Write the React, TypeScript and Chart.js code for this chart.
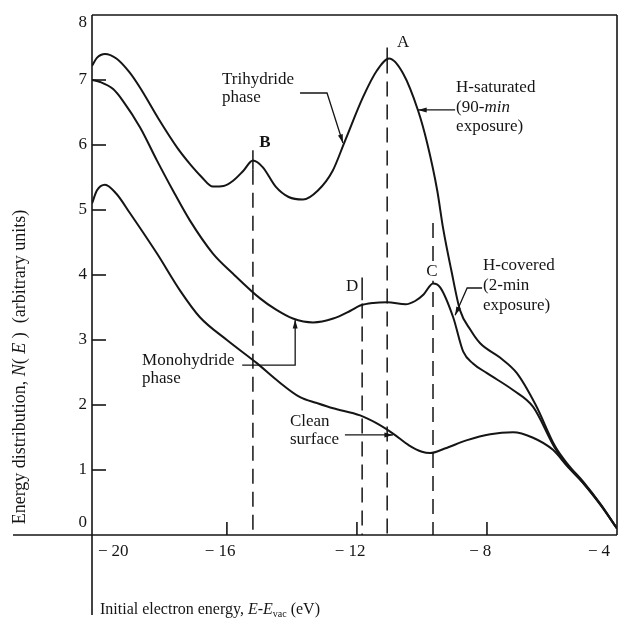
import React, { useEffect, useRef } from "react";
import { Chart, registerables } from "chart.js";

Chart.register(...registerables);

// ---------------- data ----------------
// H-saturated (90-min exposure)
const satX = [-20.15, -20.0, -19.75, -19.4, -19.0, -18.67, -18.1, -17.53, -17.14, -16.8, -16.43, -16.1, -15.81, -15.5, -15.2, -14.9, -14.5, -14.1, -13.66, -13.2, -12.75, -12.37, -11.81, -11.38, -11.01, -10.58, -10.12, -9.84, -9.53, -9.35, -9.1, -8.83, -8.5, -8.21, -7.6, -7.08, -6.5, -5.9, -5.5, -5.04, -4.5, -4.0];
const satY = [7.22, 7.34, 7.4, 7.33, 7.12, 6.88, 6.4, 5.96, 5.71, 5.52, 5.36, 5.37, 5.45, 5.6, 5.76, 5.66, 5.36, 5.2, 5.16, 5.3, 5.6, 6.06, 6.74, 7.15, 7.33, 7.1, 6.53, 6.03, 5.3, 4.72, 4.08, 3.46, 3.15, 2.95, 2.73, 2.49, 2.0, 1.36, 1.08, 0.82, 0.47, 0.1];

// H-covered (2-min exposure)
const covX = [-20.15, -19.9, -19.5, -19.2, -18.67, -18.15, -17.66, -17.14, -16.43, -15.81, -14.98, -14.5, -13.97, -13.35, -12.73, -12.2, -11.9, -11.5, -11.07, -10.5, -10.21, -9.95, -9.66, -9.44, -9.04, -8.73, -8.43, -8.0, -7.2, -6.58, -5.9, -5.5, -5.04, -4.5, -4.0];
const covY = [7.0, 6.97, 6.86, 6.68, 6.27, 5.76, 5.3, 4.84, 4.33, 4.02, 3.64, 3.47, 3.33, 3.27, 3.33, 3.45, 3.53, 3.57, 3.58, 3.55, 3.6, 3.7, 3.87, 3.81, 3.35, 2.82, 2.64, 2.49, 2.23, 1.97, 1.33, 1.06, 0.8, 0.46, 0.1];

// Clean surface
const cleanX = [-20.15, -20.0, -19.75, -19.4, -18.98, -18.15, -17.44, -16.83, -16.0, -15.07, -14.46, -13.75, -13.23, -12.73, -11.9, -11.4, -10.89, -10.4, -10.0, -9.75, -9.3, -8.61, -7.9, -7.2, -6.6, -5.97, -5.5, -5.04, -4.5, -4.0];
const cleanY = [5.1, 5.3, 5.39, 5.25, 4.95, 4.33, 3.76, 3.35, 3.0, 2.64, 2.38, 2.12, 2.03, 1.95, 1.84, 1.72, 1.56, 1.38, 1.28, 1.26, 1.33, 1.46, 1.55, 1.58, 1.5, 1.31, 1.04, 0.8, 0.46, 0.1];

// Peak markers B, D, A, C
const markerNames = ["B", "D", "A", "C"];
const markerX = [-15.2, -11.84, -11.07, -9.66];
const markerDashTop = [5.62, 3.56, 7.33, 4.8];
const markerTickTop: (number | null)[] = [5.92, 3.96, 7.5, null];
const markerTickBottom: (number | null)[] = [5.62, 3.61, 7.33, null];

// Axis ticks
const xTicks = [-20, -16, -12, -8, -4];
const yTicks = [0, 1, 2, 3, 4, 5, 6, 7, 8];

// ---------------- styles ----------------
const SERIF = "'Liberation Serif', 'DejaVu Serif', serif";
const INK = "#151515";
const FS = 17;

type Part = { t: string; italic?: boolean; bold?: boolean; size?: number; dy?: number };

function font(p: Part) {
  return `${p.italic ? "italic " : ""}${p.bold ? "bold " : ""}${p.size ?? FS}px ${SERIF}`;
}

function richWidth(ctx: CanvasRenderingContext2D, parts: Part[]) {
  let w = 0;
  for (const p of parts) {
    ctx.font = font(p);
    w += ctx.measureText(p.t).width;
  }
  return w;
}

function drawRich(ctx: CanvasRenderingContext2D, x: number, y: number, parts: Part[]) {
  let cx = x;
  ctx.textAlign = "left";
  ctx.textBaseline = "middle";
  for (const p of parts) {
    ctx.font = font(p);
    ctx.fillText(p.t, cx, y + (p.dy ?? 0));
    cx += ctx.measureText(p.t).width;
  }
}

function drawArrow(ctx: CanvasRenderingContext2D, pts: [number, number][], head = 9) {
  ctx.beginPath();
  ctx.moveTo(pts[0][0], pts[0][1]);
  for (let i = 1; i < pts.length; i++) ctx.lineTo(pts[i][0], pts[i][1]);
  ctx.stroke();
  const [x1, y1] = pts[pts.length - 2];
  const [x2, y2] = pts[pts.length - 1];
  const a = Math.atan2(y2 - y1, x2 - x1);
  ctx.beginPath();
  ctx.moveTo(x2, y2);
  ctx.lineTo(x2 - head * Math.cos(a - 0.28), y2 - head * Math.sin(a - 0.28));
  ctx.lineTo(x2 - head * Math.cos(a + 0.28), y2 - head * Math.sin(a + 0.28));
  ctx.closePath();
  ctx.fill();
}

// annotation texts + arrows, positioned in data coordinates
const notes: { x: number; y: number; lineH: number; lines: Part[][]; arrow: [number, number][] }[] = [
  {
    x: -16.15, y: 7.0, lineH: 18,
    lines: [[{ t: "Trihydride" }], [{ t: "phase" }]],
    arrow: [[-13.75, 6.8], [-12.92, 6.8], [-12.43, 6.03]],
  },
  {
    x: -8.95, y: 6.88, lineH: 19.5,
    lines: [[{ t: "H-saturated" }], [{ t: "(90-" }, { t: "min", italic: true }], [{ t: "exposure)" }]],
    arrow: [[-8.98, 6.54], [-10.12, 6.54]],
  },
  {
    x: -8.12, y: 4.15, lineH: 20,
    lines: [[{ t: "H-covered" }], [{ t: "(2-min" }], [{ t: "exposure)" }]],
    arrow: [[-8.15, 3.8], [-8.61, 3.8], [-8.98, 3.38]],
  },
  {
    x: -18.61, y: 2.69, lineH: 18,
    lines: [[{ t: "Monohydride" }], [{ t: "phase" }]],
    arrow: [[-15.53, 2.615], [-13.9, 2.615], [-13.9, 3.31]],
  },
  {
    x: -14.06, y: 1.74, lineH: 18,
    lines: [[{ t: "Clean" }], [{ t: "surface" }]],
    arrow: [[-12.37, 1.54], [-10.89, 1.54]],
  },
];

const markerLabelPos: Record<string, { x: number; y: number; bold?: boolean; bg?: boolean }> = {
  A: { x: -10.58, y: 7.57 },
  B: { x: -14.83, y: 6.03, bold: true },
  C: { x: -9.69, y: 4.05, bg: true },
  D: { x: -12.15, y: 3.82 },
};

const axesPlugin = {
  id: "paperAxes",
  beforeDatasetsDraw(chart: any) {
    const { ctx, chartArea: a, scales } = chart;
    const xs = scales.x, ys = scales.y;
    ctx.save();
    ctx.strokeStyle = INK;
    ctx.fillStyle = INK;
    ctx.lineWidth = 1.6;
    const seg = (x1: number, y1: number, x2: number, y2: number) => {
      ctx.beginPath();
      ctx.moveTo(x1, y1);
      ctx.lineTo(x2, y2);
      ctx.stroke();
    };
    // frame
    seg(a.left, a.top, a.right, a.top);
    seg(a.right, a.top, a.right, a.bottom);
    // axes, crossing and extending
    seg(a.left, a.top, a.left, a.bottom + 80);
    seg(a.left - 79, a.bottom, a.right, a.bottom);
    // ticks
    for (const v of yTicks) {
      if (v <= ys.min || v >= ys.max) continue;
      const py = ys.getPixelForValue(v);
      seg(a.left, py, a.left + 14, py);
    }
    for (const v of xTicks) {
      if (v <= xs.min + 0.5 || v >= xs.max) continue;
      const px = xs.getPixelForValue(v);
      seg(px, a.bottom, px, a.bottom - 13);
    }
    // y tick labels
    ctx.font = `${FS}px ${SERIF}`;
    ctx.textAlign = "right";
    ctx.textBaseline = "middle";
    for (const v of yTicks) {
      let py = ys.getPixelForValue(v);
      if (v === ys.min) py -= 12;
      if (v === ys.max) py += 8;
      ctx.fillText(String(v), a.left - 5, py);
    }
    // x tick labels: digits centred on the tick, minus sign set apart
    ctx.textAlign = "left";
    const gap = 4;
    const mw = ctx.measureText("\u2212").width;
    for (const v of xTicks) {
      const px = xs.getPixelForValue(v);
      const digits = String(Math.abs(v));
      const dw = ctx.measureText(digits).width;
      let dStart = px - dw / 2;
      if (v === xTicks[0]) dStart = px + mw + gap + 1;
      if (v === xTicks[xTicks.length - 1]) dStart = px - 7 - dw;
      const ly = a.bottom + 17;
      ctx.fillText(digits, dStart, ly);
      if (v < 0) ctx.fillText("\u2212", dStart - gap - mw, ly);
    }
    // axis titles
    const yTitle: Part[] = [
      { t: "Energy distribution, ", size: 18 },
      { t: "N", italic: true, size: 18 },
      { t: "( ", size: 18 },
      { t: "E", italic: true, size: 18 },
      { t: " )  (arbitrary units)", size: 18 },
    ];
    ctx.save();
    ctx.translate(20, (a.top + a.bottom) / 2 + 92);
    ctx.rotate(-Math.PI / 2);
    drawRich(ctx, -richWidth(ctx, yTitle) / 2, 0, yTitle);
    ctx.restore();
    const xTitle: Part[] = [
      { t: "Initial electron energy, ", size: 16 },
      { t: "E", italic: true, size: 16 },
      { t: "-", size: 16 },
      { t: "E", italic: true, size: 16 },
      { t: "vac", size: 10, dy: 4 },
      { t: " (eV)", size: 16 },
    ];
    drawRich(ctx, a.left + 8, a.bottom + 75, xTitle);
    ctx.restore();
  },
};

const notesPlugin = {
  id: "paperNotes",
  afterDatasetsDraw(chart: any) {
    const { ctx, scales } = chart;
    const xs = scales.x, ys = scales.y;
    const P = (x: number, y: number): [number, number] => [xs.getPixelForValue(x), ys.getPixelForValue(y)];
    ctx.save();
    ctx.fillStyle = INK;
    ctx.strokeStyle = INK;
    ctx.lineWidth = 1.3;
    for (const n of notes) {
      const [px, py] = P(n.x, n.y);
      n.lines.forEach((ln, i) => drawRich(ctx, px, py + i * n.lineH, ln));
      drawArrow(ctx, n.arrow.map(([x, y]) => P(x, y)));
    }
    for (const name of markerNames) {
      const pos = markerLabelPos[name];
      const [px, py] = P(pos.x, pos.y);
      const part: Part = { t: name, bold: pos.bold };
      ctx.font = font(part);
      const w = ctx.measureText(name).width;
      if (pos.bg) {
        ctx.fillStyle = "#ffffff";
        ctx.fillRect(px - w / 2 - 1, py - 9, w + 2, 18);
        ctx.fillStyle = INK;
      }
      drawRich(ctx, px - w / 2, py, [part]);
    }
    ctx.restore();
  },
};

export default function App() {
  const ref = useRef<HTMLCanvasElement>(null);
  useEffect(() => {
    document.body.style.margin = "0";
    const canvas = ref.current!;
    const pts = (xs: number[], ys: number[]) => xs.map((x, i) => ({ x, y: ys[i] }));
    const curve = {
      borderColor: INK,
      borderWidth: 2,
      pointRadius: 0,
      fill: false,
      cubicInterpolationMode: "monotone" as const,
    };
    const datasets: any[] = [
      { label: "H-saturated (90-min exposure)", data: pts(satX, satY), ...curve },
      { label: "H-covered (2-min exposure)", data: pts(covX, covY), ...curve },
      { label: "Clean surface", data: pts(cleanX, cleanY), ...curve },
    ];
    markerX.forEach((x, i) => {
      datasets.push({
        label: `${markerNames[i]} dashed`,
        data: [{ x, y: markerDashTop[i] }, { x, y: 0 }],
        borderColor: INK,
        borderWidth: 1.5,
        borderDash: [15, 8],
        pointRadius: 0,
      });
      const tt = markerTickTop[i], tb = markerTickBottom[i];
      if (tt != null && tb != null) {
        datasets.push({
          label: `${markerNames[i]} tick`,
          data: [{ x, y: tt }, { x, y: tb }],
          borderColor: INK,
          borderWidth: 1.5,
          pointRadius: 0,
        });
      }
    });
    const chart = new Chart(canvas, {
      type: "line",
      data: { datasets },
      options: {
        animation: false,
        responsive: false,
        events: [],
        layout: { padding: { left: 92, top: 15, right: 2, bottom: 86 } },
        plugins: { legend: { display: false }, tooltip: { enabled: false } },
        scales: {
          x: { type: "linear", min: -20.15, max: -4, display: false },
          y: { type: "linear", min: 0, max: 8, display: false },
        },
      },
      plugins: [axesPlugin, notesPlugin],
    });
    return () => chart.destroy();
  }, []);
  return <canvas ref={ref} width={619} height={621} style={{ display: "block" }} />;
}
